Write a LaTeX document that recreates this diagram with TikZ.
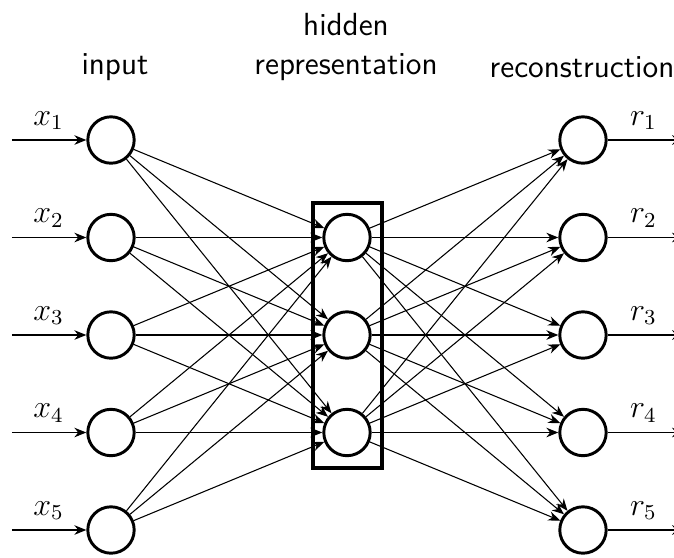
\documentclass[tikz,border=0pt]{standalone}
\usetikzlibrary{arrows.meta}
\begin{document}
\begin{tikzpicture}[x=0.375pt,y=-0.375pt,
  neuron/.style={circle,draw,line width=1.1pt,minimum size=17.4pt,inner sep=0pt},
  conn/.style={line width=0.4pt,-{Stealth[length=4.5pt,width=3.6pt]}},
  title/.style={font=\sffamily\large,anchor=base,inner sep=0pt},
  lbl/.style={inner sep=0pt,anchor=base,font=\large}]
\useasboundingbox (0,0) rectangle (674,558);
\foreach \i/\y in {1/140,2/237.5,3/335,4/432.5,5/530}{
  \node[neuron] (in\i) at (111,\y) {};
  \node[neuron] (out\i) at (583,\y) {};
  \coordinate (s\i) at (12,\y);
  \coordinate (e\i) at (684,\y);
  \node[lbl] (xl\i) at (48.5,\y-15) {$x_{\i}$};
  \node[lbl] (rl\i) at (643.5,\y-15) {$r_{\i}$};
  \draw[conn] (s\i) -- (in\i);
  \draw[conn] (out\i) -- (e\i);
}
\foreach \j/\y in {1/237.5,2/335,3/432.5}{
  \node[neuron] (h\j) at (347,\y) {};
}
\node[draw,line width=1.5pt,minimum width=26pt,minimum height=99.5pt,inner sep=0pt] (box) at (347.5,335.5) {};
\foreach \i in {1,...,5}{
  \foreach \j in {1,2,3}{
    \draw[conn] (in\i) -- (h\j);
    \draw[conn] (h\j) -- (out\i);
  }
}
\node[title] (tin) at (115,74) {input};
\node[title] (thid) at (346,35) {hidden};
\node[title] (trep) at (346,74) {representation};
\node[title] (tout) at (582,77) {reconstruction};
\end{tikzpicture}
\end{document}
